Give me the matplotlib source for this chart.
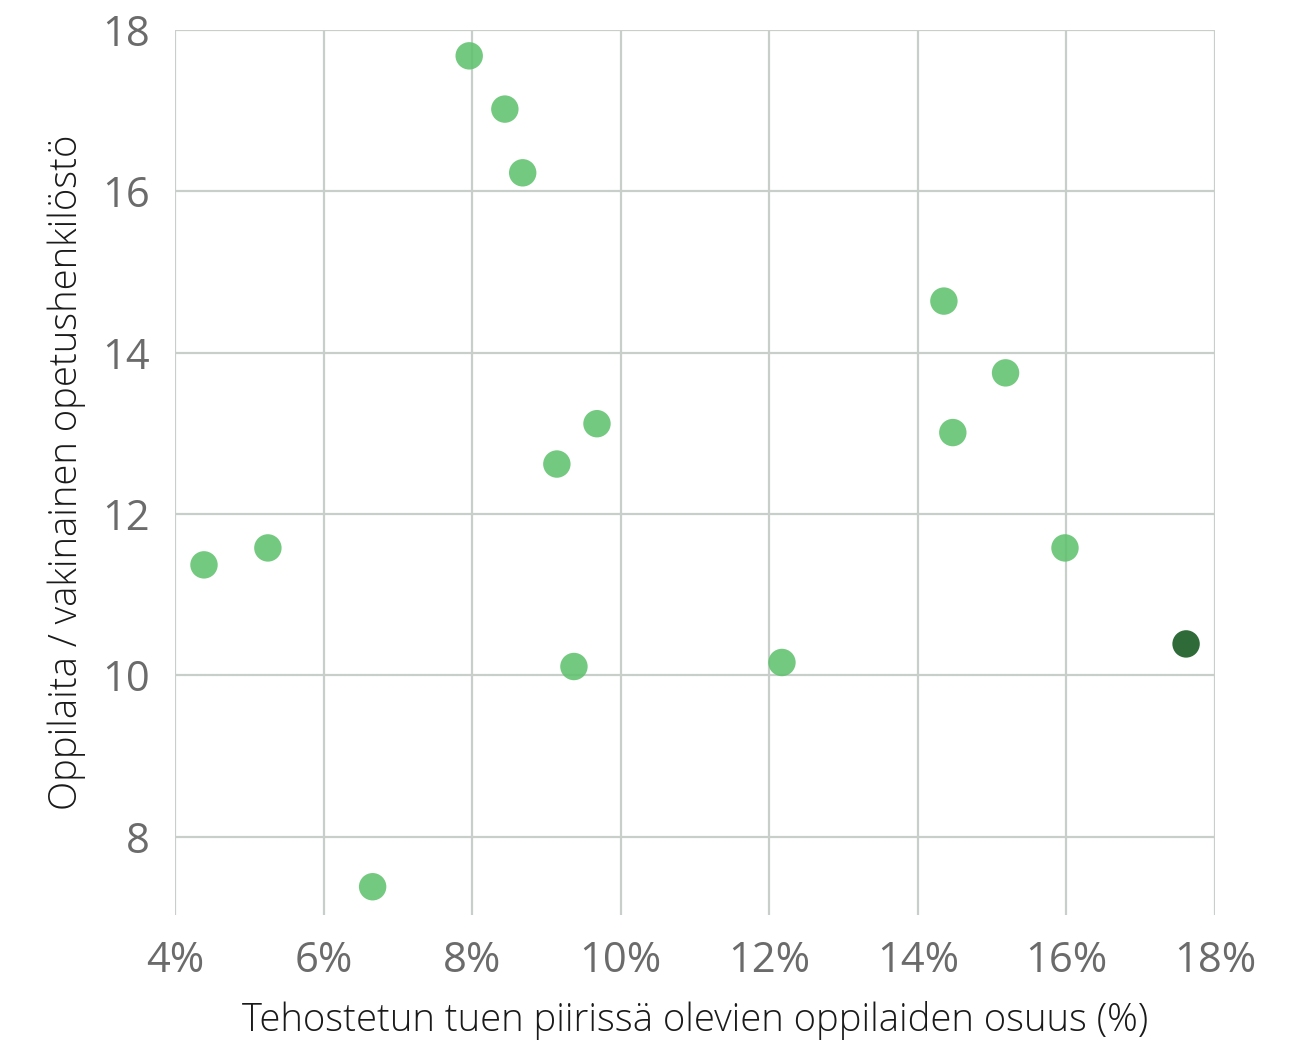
import matplotlib
matplotlib.use("Agg")
import matplotlib.pyplot as plt
from matplotlib.ticker import FuncFormatter

x_pct = [7.96, 8.44, 8.68, 14.35, 15.18, 9.68, 9.14, 14.47, 4.39, 5.25, 15.98, 9.37, 12.17, 6.66]
y_ratio = [17.68, 17.02, 16.23, 14.64, 13.75, 13.12, 12.62, 13.01, 11.37, 11.58, 11.58, 10.11, 10.16, 7.38]
hl_x = [17.61]
hl_y = [10.39]

x_ticks = [4, 6, 8, 10, 12, 14, 16, 18]
y_ticks = [8, 10, 12, 14, 16, 18]

plt.rcParams['font.family'] = ['Open Sans', 'DejaVu Sans']

fig = plt.figure(figsize=(13.13, 10.5), dpi=100)
ax = fig.add_axes([0.1333, 0.1286, 0.7921, 0.8428])

ax.scatter(x_pct, y_ratio, s=390, color='#5cc06a', alpha=0.85, edgecolors='none', zorder=3)
ax.scatter(hl_x, hl_y, s=390, color='#2f6b39', alpha=1.0, edgecolors='none', zorder=3)

ax.set_xlim(4, 18)
ax.set_ylim(7.03, 18)
ax.set_xticks(x_ticks)
ax.set_yticks(y_ticks)
ax.xaxis.set_major_formatter(FuncFormatter(lambda v, p: f"{v:.0f}%"))
ax.grid(True, color='#c8cfcb', linewidth=1.6, zorder=0)
ax.set_axisbelow(True)
for s in ax.spines.values():
    s.set_visible(False)
ax.tick_params(length=0, labelsize=30, labelcolor='#6b6b6b')
ax.tick_params(axis='x', pad=18)
ax.tick_params(axis='y', pad=18)

ax.set_xlabel("Tehostetun tuen piirissä olevien oppilaiden osuus (%)", fontsize=27.5, color='#1a1a1a', labelpad=14, fontweight='light')
ax.set_ylabel("Oppilaita / vakinainen opetushenkilöstö", fontsize=27.5, color='#1a1a1a', labelpad=12, fontweight='light')

fig.savefig("out.png", dpi=100, facecolor='white')
